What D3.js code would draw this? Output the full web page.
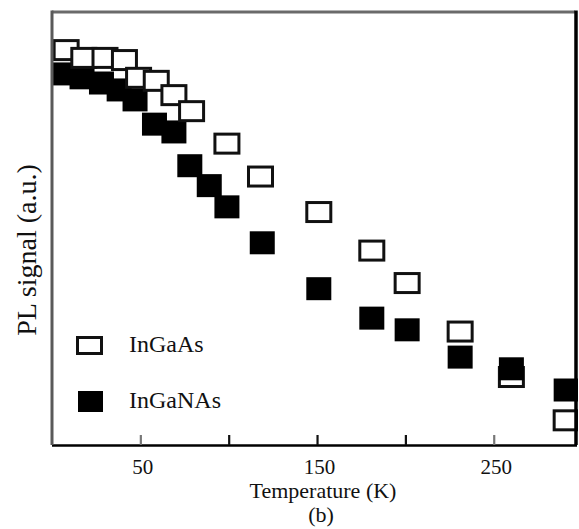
<!DOCTYPE html>
<html>
<head>
<meta charset="utf-8">
<script src="https://cdn.jsdelivr.net/npm/d3@7"></script>
<style>
  html, body { margin: 0; padding: 0; background: #fff; }
  svg { display: block; font-family: "Liberation Serif", "DejaVu Serif", serif; }
</style>
</head>
<body>
<svg id="chart" width="579" height="529"></svg>
<script>
// ---- data ----
const inGaAsT   = [8, 18, 30, 41, 49, 59, 69, 79, 99, 118, 151, 181, 201, 231, 260, 291];
const inGaAsPL  = [91.2, 89.4, 89.4, 88.9, 84.8, 84.1, 80.8, 77.1, 69.6, 62.0, 53.8, 44.9, 37.4, 26.2, 15.7, 5.7];
const inGaNAsT  = [6, 17, 28, 38, 47, 58, 69, 78, 89, 99, 119, 151, 181, 201, 231, 260, 291];
const inGaNAsPL = [85.7, 84.8, 83.6, 82.0, 79.7, 74.1, 72.3, 64.5, 59.9, 55.0, 46.7, 36.1, 29.3, 26.6, 20.3, 17.6, 12.7];
const xTicks      = [50, 100, 150, 200, 250];
const xTickLabels = ["50", "", "150", "", "250"];
const seriesNames = ["InGaAs", "InGaNAs"];

const svg = d3.select("#chart");
const pL = 52, pR = 575, pT = 12, pB = 445;

const x = d3.scaleLinear().domain([0, 296]).range([pL, pR]);
const y = d3.scaleLinear().domain([0, 100]).range([pB, pT]);

// top frame line
svg.append("line").attr("x1", pL).attr("x2", pR).attr("y1", pT).attr("y2", pT)
  .attr("stroke", "#6a6a6a").attr("stroke-width", 3);

// x axis
const xAxis = d3.axisBottom(x)
  .tickValues(xTicks)
  .tickFormat((d, i) => xTickLabels[i])
  .tickSizeInner(-10).tickSizeOuter(0).tickPadding(14);
const gx = svg.append("g").attr("transform", `translate(0,${pB})`).call(xAxis);
gx.select(".domain").attr("stroke", "#000").attr("stroke-width", 2.5)
  .attr("d", `M${pL},0.5H${pR + 2}`);
gx.selectAll(".tick line").attr("stroke-width", 2.2)
  .attr("stroke", d => (d === 50 || d === 250) ? "#777" : "#111");
gx.selectAll(".tick text").attr("font-size", 21).attr("fill", "#111")
  .attr("font-family", "Liberation Serif").attr("dy", "0.71em").attr("dx", 2);

// axis titles
svg.append("text").attr("x", 323).attr("y", 498).attr("text-anchor", "middle")
  .attr("font-size", 22).attr("fill", "#111").text("Temperature (K)");
svg.append("text").attr("x", 321).attr("y", 522).attr("text-anchor", "middle")
  .attr("font-size", 22).attr("fill", "#111").text("(b)");
svg.append("text").attr("transform", "translate(36,250) rotate(-90)")
  .attr("text-anchor", "middle").attr("font-size", 28).attr("fill", "#111")
  .text("PL signal (a.u.)");

// markers, merged and ordered by temperature (open first on ties)
const pts = [];
inGaAsT.forEach((t, i) => pts.push({ t, v: inGaAsPL[i], s: 0 }));
inGaNAsT.forEach((t, i) => pts.push({ t, v: inGaNAsPL[i], s: 1 }));
pts.sort((a, b) => a.t - b.t || a.s - b.s);

svg.append("clipPath").attr("id", "plotclip").append("rect")
  .attr("x", pL).attr("y", pT).attr("width", pR - pL + 3).attr("height", pB - pT);

const g = svg.append("g").attr("clip-path", "url(#plotclip)");
g.selectAll("rect.pt").data(pts).join("rect")
  .attr("class", "pt")
  .attr("x", d => x(d.t) - (d.s === 0 ? 12 : 12.5))
  .attr("y", d => y(d.v) - (d.s === 0 ? 9.5 : 11.5))
  .attr("width", d => d.s === 0 ? 24 : 25)
  .attr("height", d => d.s === 0 ? 19 : 23)
  .attr("fill", d => d.s === 0 ? "#fff" : "#000")
  .attr("stroke", d => d.s === 0 ? "#111" : "none")
  .attr("stroke-width", 3);

// side axis lines over markers
svg.append("line").attr("x1", pL).attr("x2", pL).attr("y1", pT - 1.5).attr("y2", pB)
  .attr("stroke", "#5a5a5a").attr("stroke-width", 3);
svg.append("line").attr("x1", pR + 1).attr("x2", pR + 1).attr("y1", pT - 1.5).attr("y2", pB)
  .attr("stroke", "#000").attr("stroke-width", 3.5);

// legend
const legend = svg.append("g");
legend.append("rect").attr("x", 77.5).attr("y", 337.5).attr("width", 24).attr("height", 16)
  .attr("fill", "#fff").attr("stroke", "#111").attr("stroke-width", 3);
legend.append("rect").attr("x", 78).attr("y", 391).attr("width", 25).attr("height", 21)
  .attr("fill", "#000");
legend.append("text").attr("x", 129).attr("y", 352).attr("font-size", 24).attr("fill", "#111").text(seriesNames[0]);
legend.append("text").attr("x", 129).attr("y", 408).attr("font-size", 24).attr("fill", "#111").text(seriesNames[1]);
</script>
</body>
</html>
